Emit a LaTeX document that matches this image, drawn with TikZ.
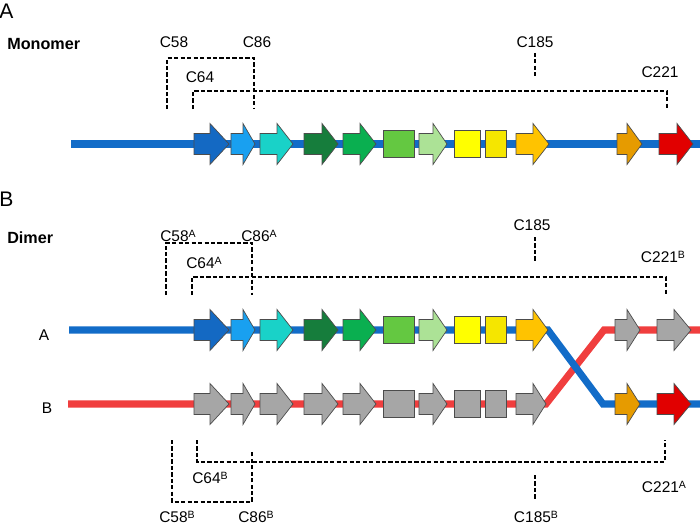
\documentclass[tikz,border=0pt]{standalone}
\usepackage{fontspec}
\setmainfont{Liberation Sans}
\usetikzlibrary{calc}
\usetikzlibrary{arrows.meta}
\usetikzlibrary{positioning}

\definecolor{bbblue}{RGB}{18,108,200}
\definecolor{bbred}{RGB}{240,62,62}
\definecolor{gdblue}{RGB}{20,105,195}
\definecolor{glblue}{RGB}{25,160,240}
\definecolor{gcyan}{RGB}{25,210,200}
\definecolor{gdgreen}{RGB}{22,125,60}
\definecolor{ggreen}{RGB}{10,175,80}
\definecolor{glgreen}{RGB}{100,200,65}
\definecolor{gpgreen}{RGB}{172,226,150}
\definecolor{gyellow}{RGB}{255,255,0}
\definecolor{gyellowb}{RGB}{245,230,0}
\definecolor{gamber}{RGB}{255,195,0}
\definecolor{gorange}{RGB}{230,155,0}
\definecolor{gred}{RGB}{225,0,0}
\definecolor{ggray}{RGB}{166,166,166}

% gene arrow: tail x, head x, tip x, y, colour
\newcommand{\genearrow}[5]{%
  \draw[gene, fill=#5] (#1,#4-10.5) -- (#2,#4-10.5) -- (#2,#4-20.5) -- (#3,#4)
    -- (#2,#4+20.5) -- (#2,#4+10.5) -- (#1,#4+10.5) -- cycle;}
% gene box: left x, right x, y, colour
\newcommand{\genebox}[4]{%
  \draw[gene, fill=#4] (#1,#3-13.5) rectangle (#2,#3+13.5);}
% chain superscript
\newcommand{\chn}[1]{\raisebox{2.4pt}{\fontsize{7.5}{8}\selectfont #1}}

\begin{document}
\begin{tikzpicture}[x=0.025cm, y=-0.025cm,
    gene/.style = {draw=black!70, line width=0.5pt, line join=miter},
    strand/.style = {line width=5pt, line join=miter},
    brk/.style = {draw, line width=0.85pt, dash pattern=on 3pt off 1.6pt},
    lbl/.style = {inner sep=0pt, font=\fontsize{11}{13}\selectfont},
    panel/.style = {inner sep=0pt, anchor=west, font=\fontsize{15}{17}\selectfont},
    title/.style = {inner sep=0pt, anchor=west, font=\fontsize{11.5}{13}\selectfont\bfseries}]
    \useasboundingbox (0,0) rectangle (700,526);

    % ---- A: monomer
    \node[panel] (pa) at (-1,11) {A};
    \node[title] (mono) at (7,44) {Monomer};

    \node[lbl] (c58) at (174,42) {C58};
    \node[lbl] (c86) at (257,42) {C86};
    \node[lbl] (c64) at (200,77) {C64};
    \node[lbl] (c185) at (535,42) {C185};
    \node[lbl] (c221) at (660,72) {C221};

    \coordinate (m58) at (167,109);
    \coordinate (m86) at (254,109);
    \coordinate (m64) at (193,109);
    \coordinate (m221) at (667,109);
    \draw[brk] (m58) -- ++(0,-51) -| (m86);
    \draw[brk] (m64) -- ++(0,-18) -| (m221);
    \draw[brk] ($(c185.south)+(0,5)$) -- ++(0,25);

    \draw[strand, bbblue] (71,144) -- (700,144);
    \genearrow{194}{210}{229}{144}{gdblue}
    \genearrow{231}{243}{255}{144}{glblue}
    \genearrow{260}{277}{293}{144}{gcyan}
    \genearrow{304}{322}{338}{144}{gdgreen}
    \genearrow{343}{360}{376}{144}{ggreen}
    \genebox{383}{414}{144}{glgreen}
    \genearrow{419}{433}{447}{144}{gpgreen}
    \genebox{454}{480}{144}{gyellow}
    \genebox{485}{506}{144}{gyellowb}
    \genearrow{516}{533}{549}{144}{gamber}
    \genearrow{617}{627}{642}{144}{gorange}
    \genearrow{659}{677}{693}{144}{gred}

    % ---- B: dimer
    \node[panel] (pb) at (-1,199) {B};
    \node[title] (dim) at (7,238) {Dimer};
    \node[lbl] (ra) at (44,335) {A};
    \node[lbl] (rb) at (47,408) {B};

    \node[lbl] (c58a) at (178,236) {C58\chn{A}};
    \node[lbl] (c86a) at (259,236) {C86\chn{A}};
    \node[lbl] (c64a) at (204,263) {C64\chn{A}};
    \node[lbl] (c185a) at (532,225) {C185};
    \node[lbl] (c221b) at (663,257) {C221\chn{B}};

    \coordinate (d58a) at (166,295);
    \coordinate (d86a) at (252,295);
    \coordinate (d64a) at (192,295);
    \coordinate (d221b) at (666,295);
    \draw[brk] (d58a) -- ++(0,-52) -| (d86a);
    \draw[brk] (d64a) -- ++(0,-18) -| (d221b);
    \draw[brk] (535,237) -- (535,262);

    \node[lbl] (c64b) at (210,478) {C64\chn{B}};
    \node[lbl] (c58b) at (177,517) {C58\chn{B}};
    \node[lbl] (c86b) at (256,517) {C86\chn{B}};
    \node[lbl] (c185b) at (536,517) {C185\chn{B}};
    \node[lbl] (c221a) at (664,487) {C221\chn{A}};

    \coordinate (d58b) at (172,440);
    \coordinate (d86b) at (252,451);
    \coordinate (d64b) at (197,440);
    \coordinate (d221a) at (665,440);
    \draw[brk] (d58b) -- ++(0,62) -| (d86b);
    \draw[brk] (d64b) -- ++(0,22) -| (d221a);
    \draw[brk] (535,475) -- (535,500);

    % strands (B under A)
    \draw[strand, bbred] (68,404) -- (546,404) -- (604,330) -- (700,330);
    \draw[strand, bbblue] (69,330) -- (548,330) -- (603,404) -- (700,404);

    \genearrow{194}{210}{229}{330}{gdblue}
    \genearrow{231}{243}{255}{330}{glblue}
    \genearrow{260}{277}{293}{330}{gcyan}
    \genearrow{304}{322}{338}{330}{gdgreen}
    \genearrow{343}{360}{376}{330}{ggreen}
    \genebox{383}{414}{330}{glgreen}
    \genearrow{419}{433}{447}{330}{gpgreen}
    \genebox{454}{480}{330}{gyellow}
    \genebox{485}{506}{330}{gyellowb}
    \genearrow{516}{533}{548}{330}{gamber}
    \genearrow{615}{627}{640}{330}{ggray}
    \genearrow{657}{674}{691}{330}{ggray}

    \foreach \a/\b/\c in {194/210/229, 231/243/255, 260/277/293, 304/322/338,
                          343/360/376, 419/433/447, 516/533/546}
        \genearrow{\a}{\b}{\c}{404}{ggray};
    \genebox{383}{414}{404}{ggray}
    \genebox{454}{480}{404}{ggray}
    \genebox{485}{506}{404}{ggray}
    \genearrow{615}{627}{640}{404}{gorange}
    \genearrow{657}{674}{691}{404}{gred}

\end{tikzpicture}
\end{document}
